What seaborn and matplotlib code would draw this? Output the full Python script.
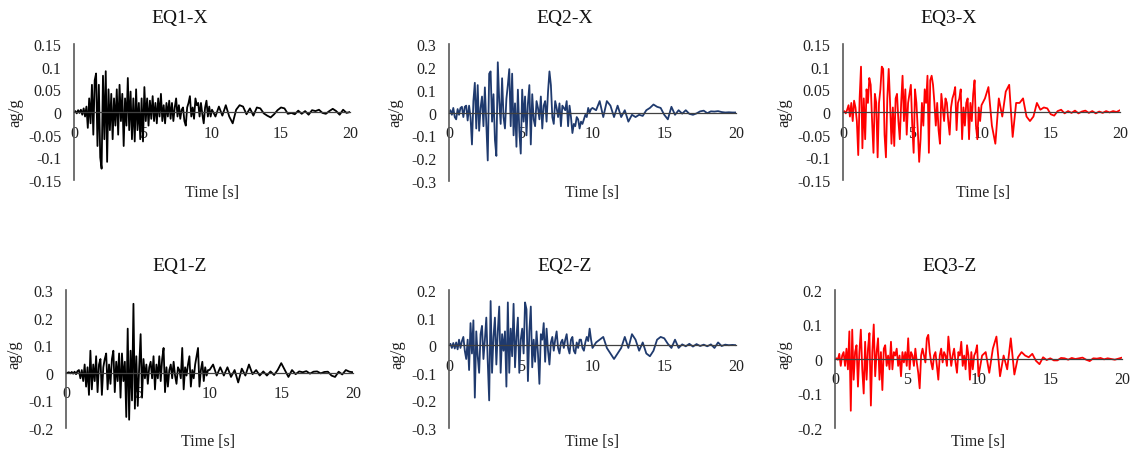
import numpy as np
import matplotlib
matplotlib.use("Agg")
import matplotlib.pyplot as plt
import seaborn as sns

# ---------------- data (ag/g) ----------------
# early part: 0.0 .. 9.9 s every 0.1 s ; late part: 10.0 .. 20.0 s every 0.25 s
EARLY_DT = 0.1
LATE_DT = 0.25
LATE_START = 10.0

eq1x_early = [
    0, 0.002, -0.003, 0.004, -0.002, 0.005, -0.006, 0.008, -0.01, 0.012,
    -0.035, 0.03, -0.025, 0.06, -0.05, 0.07, 0.085, -0.075, 0.06, -0.1,
    -0.125, 0.08, -0.06, 0.09, -0.11, 0.05, -0.04, 0.04, -0.06, 0.03,
    -0.03, 0.05, -0.05, 0.06, -0.02, 0.04, -0.075, 0.03, -0.03, 0.075,
    -0.04, 0.045, -0.06, 0.03, -0.065, 0.05, -0.04, 0.02, -0.06, 0.03,
    -0.065, 0.055, -0.02, 0.03, -0.03, 0.025, -0.015, 0.035, -0.02, 0.02,
    -0.025, 0.03, -0.01, 0.04, -0.02, 0.015, -0.025, 0.02, -0.01, 0.025,
    -0.015, 0.02, -0.02, 0.01, 0.03, -0.01, 0.015, -0.015, 0.005, 0.01,
    -0.02, -0.03, 0.01, 0.02, 0.035, -0.01, 0.01, -0.015, 0.03, 0.015,
    0.02, -0.01, 0.02, -0.005, -0.025, 0.01, 0.025, -0.01, 0.012, -0.01,
]
eq1x_late = [
    0.005, -0.01, 0.012, -0.008, 0.015, -0.01, -0.025, 0.005, 0.015, 0.012,
    -0.005, 0.008, -0.008, 0.01, 0.008, -0.003, -0.008, -0.012, -0.005, 0.004,
    0.01, 0.008, -0.004, -0.002, -0.005, 0.003, -0.004, 0.002, -0.006, 0.004,
    0.002, 0.005, -0.002, -0.004, 0.002, 0.007, 0.002, -0.006, 0.005, -0.002,
    0.0,
]

eq2x_early = [
    0, 0.01, -0.01, 0.02, -0.02, -0.03, 0.015, -0.01, 0.02, 0.025,
    -0.02, 0.025, 0.03, -0.035, 0.03, -0.02, -0.14, 0.05, 0.13, -0.07,
    0.12, -0.08, 0.02, 0.07, -0.06, 0.11, -0.05, -0.21, 0.17, 0.18,
    -0.04, 0.08, -0.12, -0.19, 0.22, 0.05, -0.05, 0.15, -0.02, -0.07,
    0.06, 0.12, 0.19, -0.06, 0.17, -0.1, 0.04, -0.15, 0.1, -0.08,
    -0.18, 0.1, -0.04, 0.07, -0.1, 0.04, 0.12, -0.14, 0.08, -0.03,
    -0.06, 0.05, 0.02, -0.03, 0.07, -0.07, 0.03, 0.05, -0.04, 0.09,
    0.18, 0.12, -0.02, -0.05, 0.05, 0.02, -0.02, 0.04, -0.06, 0.03,
    0.02, 0.01, 0.05, -0.06, 0.03, -0.02, -0.09, -0.05, -0.06, -0.02,
    -0.03, -0.07, -0.04, -0.05, -0.03, -0.01, -0.02, 0.02, 0.0, 0.015,
]
eq2x_late = [
    0.02, 0.01, 0.05, -0.02, 0.05, 0.03, -0.02, 0.03, -0.02, 0.01,
    -0.04, -0.01, -0.02, -0.01, -0.015, 0.01, 0.02, 0.035, 0.025, 0.02,
    -0.01, -0.03, 0.025, -0.01, 0.01, -0.005, 0.01, -0.006, -0.01, -0.004,
    0.005, 0.008, -0.003, 0.005, 0.004, 0.006, 0.002, 0.0, 0.001, 0.0,
    0.0,
]

eq3x_early = [
    0, 0.002, -0.003, 0.005, 0.015, -0.01, 0.02, -0.02, 0.025, 0.01,
    -0.02, -0.095, 0.03, 0.1, -0.08, 0.03, -0.06, 0.05, 0.02, 0.075,
    0.06, -0.02, -0.09, 0.04, 0.02, -0.1, 0.02, 0.05, 0.1, 0.095,
    -0.05, -0.1, 0.03, 0.095, 0.02, -0.07, 0.01, -0.075, 0.03, 0.04,
    -0.02, -0.06, 0.02, 0.08, -0.02, 0.05, -0.05, 0.02, 0.04, 0.06,
    -0.03, -0.09, 0.05, 0.02, -0.04, -0.11, -0.06, 0.02, -0.03, 0.05,
    0.02, 0.08, -0.09, 0.07, 0.08, 0.06, 0.02, -0.03, 0.02, -0.04,
    -0.07, 0.04, 0.01, -0.02, 0.03, 0.02, -0.02, -0.05, 0.01, 0.03,
    0.04, 0.055, -0.04, 0.02, 0.03, 0.05, -0.06, 0.01, -0.03, 0.02,
    0.03, -0.06, 0.02, -0.02, 0.04, 0.07, -0.03, -0.06, 0.01, -0.02,
]
eq3x_late = [
    0.015, 0.03, 0.055, -0.03, -0.07, 0.03, -0.01, 0.045, 0.06, -0.055,
    0.02, 0.02, 0.03, -0.01, -0.02, -0.01, 0.02, 0.005, 0.01, 0.008,
    -0.005, -0.008, 0.002, 0.005, -0.003, 0.002, -0.002, 0.003, -0.003, 0.001,
    0.003, -0.002, 0.002, -0.003, 0.001, -0.002, 0.002, -0.001, 0.002, 0.0,
    0.004,
]

eq1z_early = [
    0, 0, 0.002, -0.002, 0.003, -0.003, 0.004, -0.005, 0.006, 0.01,
    -0.02, 0.01, -0.03, 0.03, -0.05, 0.02, -0.08, 0.08, -0.06, 0.03,
    -0.03, 0.06, -0.07, 0.03, 0.05, -0.08, 0.02, 0.05, 0.07, -0.06,
    0.03, -0.04, 0.05, 0.08, -0.07, 0.04, -0.03, 0.07, -0.09, 0.07,
    -0.03, 0.04, -0.16, 0.16, -0.17, 0.08, -0.1, 0.25, -0.13, 0.06,
    -0.12, 0.02, 0.14, -0.09, 0.05, -0.02, 0.03, -0.04, 0.02, 0.04,
    -0.02, 0.06, -0.06, 0.03, -0.02, 0.06, -0.03, 0.05, 0.09, -0.07,
    0.02, -0.05, 0.01, 0.03, -0.02, 0.04, -0.01, -0.04, 0.02, 0.01,
    -0.02, 0.09, -0.06, 0.02, -0.01, 0.03, 0.06, -0.05, 0.01, -0.02,
    0.03, 0.06, 0.09, -0.05, 0.01, 0.04, -0.03, 0.02, -0.01, 0.01,
]
eq1z_late = [
    0.01, 0.03, -0.01, 0.02, -0.01, 0.02, -0.015, 0.01, -0.035, 0.015,
    -0.01, 0.03, -0.005, 0.01, -0.01, 0.005, -0.01, 0.005, -0.008, 0.01,
    0.035, 0.01, -0.015, 0.01, -0.005, 0.005, 0.002, 0.006, -0.003, 0.004,
    0.005, -0.002, 0.003, 0.004, -0.01, -0.015, 0.004, -0.006, 0.01, 0.004,
    0.002,
]

eq2z_early = [
    0, 0.005, -0.01, 0.008, -0.012, 0.01, -0.015, 0.02, -0.01, 0.015,
    0.03, -0.02, -0.05, 0.02, -0.09, 0.08, -0.03, 0.09, -0.19, 0.05,
    -0.04, -0.1, 0.04, 0.07, -0.05, 0.02, 0.1, -0.06, -0.2, 0.16,
    -0.1, 0.03, 0.1, -0.07, 0.05, 0.14, -0.1, 0.04, -0.02, 0.05,
    -0.15, 0.155, -0.1, 0.06, -0.04, 0.15, -0.08, 0.03, 0.1, -0.1,
    0.02, 0.06, -0.03, 0.155, 0.13, -0.13, 0.05, 0.14, -0.08, 0.02,
    -0.06, 0.05, -0.03, -0.14, 0.04, 0.02, 0.08, -0.06, 0.06, -0.02,
    -0.07, 0.01, 0.03, -0.02, 0.02, 0.05, -0.01, -0.03, 0.01, 0.02,
    -0.01, 0.02, 0.04, -0.01, -0.03, 0.02, 0.03, -0.02, -0.03, 0.01,
    -0.01, 0.02, 0.02, -0.01, -0.02, 0.01, 0.03, 0.015, 0.06, 0.02,
]
eq2z_late = [
    -0.01, 0.01, 0.02, 0.03, -0.01, -0.03, -0.05, -0.03, -0.01, 0.03,
    -0.01, 0.04, 0.02, -0.02, 0.01, -0.03, -0.04, -0.02, 0.02, 0.03,
    0.025, 0.005, -0.01, 0.02, -0.01, 0.003, -0.004, 0.005, -0.005, 0.004,
    -0.003, 0.002, -0.004, 0.003, -0.01, 0.01, -0.003, 0.002, 0.0, 0.001,
    0.0,
]

eq3z_early = [
    0, 0.002, -0.002, 0.015, -0.02, 0.01, 0.02, -0.02, 0.03, -0.03,
    0.08, -0.15, 0.085, -0.06, 0.02, 0.04, -0.08, 0.02, 0.085, -0.03,
    -0.1, 0.05, -0.06, 0.03, 0.075, -0.135, 0.02, 0.1, -0.05, 0.02,
    0.06, -0.06, 0.02, -0.09, 0.03, 0.04, -0.02, 0.01, -0.03, 0.05,
    -0.03, 0.02, 0.01, 0.03, -0.02, 0.01, -0.05, 0.02, -0.01, 0.02,
    -0.02, 0.06, -0.03, 0.02, 0.01, -0.02, 0.03, -0.01, -0.04, -0.085,
    0.01, 0.03, 0.01, -0.01, 0.06, 0.07, 0.02, -0.01, -0.03, 0.01,
    0.02, -0.02, -0.06, 0.01, 0.03, -0.01, 0.02, 0.01, -0.02, 0.065,
    0.02, -0.02, 0.01, 0.03, -0.01, -0.04, 0.02, 0.01, 0.05, -0.02,
    0.01, -0.03, 0.04, 0.01, -0.06, 0.02, -0.03, 0.01, 0.02, 0.04,
]
eq3z_late = [
    -0.05, 0.01, 0.02, -0.04, 0.03, 0.065, -0.05, 0.01, -0.03, 0.06,
    -0.045, 0.005, 0.02, 0.01, 0.005, 0.015, -0.005, -0.015, 0.005, -0.003,
    0.002, -0.004, -0.004, 0.003, 0.002, -0.002, 0.003, 0.0, 0.002, 0.004,
    -0.002, -0.006, 0.002, 0.001, 0.003, -0.001, 0.002, 0.0, -0.002, 0.001,
    0.004,
]

titles = ["EQ1-X", "EQ2-X", "EQ3-X", "EQ1-Z", "EQ2-Z", "EQ3-Z"]
series_early = [eq1x_early, eq2x_early, eq3x_early, eq1z_early, eq2z_early, eq3z_early]
series_late = [eq1x_late, eq2x_late, eq3x_late, eq1z_late, eq2z_late, eq3z_late]
y_ranges = [(-0.15, 0.15, 0.05), (-0.3, 0.3, 0.1), (-0.15, 0.15, 0.05),
            (-0.2, 0.3, 0.1), (-0.3, 0.2, 0.1), (-0.2, 0.2, 0.1)]
x_ticks = [0, 5, 10, 15, 20]
x_label = "Time [s]"
y_label = "ag/g"

# ---------------- style / layout ----------------
colors = ["#000000", "#1F3A6E", "#FF0000", "#000000", "#1F3A6E", "#FF0000"]
W, H = 1137, 452
# plot box (x0, x1, ytop, ybottom), title centre, ylabel centre, xlabel centre (pixels)
boxes = [(74, 350, 45, 181), (449, 736, 45, 182), (843, 1120, 45, 181),
         (66, 353, 291, 429), (449, 736, 291, 429), (835, 1122, 291, 429)]
title_pos = [(180, 18), (565, 18), (949, 18), (180, 267), (565, 267), (950, 267)]
ylab_pos = [(15, 113), (395, 113), (784, 113), (14, 355), (397, 355), (784, 355)]
xlab_pos = [(212, 193), (592, 193), (983, 193), (208, 442), (592, 442), (978, 442)]

sns.set_theme(style="white")
plt.rcParams["font.family"] = ["Liberation Serif", "DejaVu Serif"]
plt.rcParams["axes.unicode_minus"] = False

fig = plt.figure(figsize=(W / 100, H / 100), dpi=100)


def fmt(v):
    if abs(v) < 1e-9:
        return "0"
    return f"{v:g}"


for i in range(6):
    x0, x1, yt, yb = boxes[i]
    ax = fig.add_axes([x0 / W, 1 - yb / H, (x1 - x0) / W, (yb - yt) / H])
    early = np.asarray(series_early[i], dtype=float)
    late = np.asarray(series_late[i], dtype=float)
    t = np.concatenate([np.arange(len(early)) * EARLY_DT,
                        LATE_START + np.arange(len(late)) * LATE_DT])
    v = np.concatenate([early, late])
    sns.lineplot(x=t, y=v, ax=ax, color=colors[i], linewidth=1.3,
                 estimator=None, errorbar=None)
    lo, hi, step = y_ranges[i]
    ax.set_xlim(0, 20)
    ax.set_ylim(lo, hi)
    ax.set_xticks(x_ticks)
    ax.set_xticklabels([str(x) for x in x_ticks])
    yt_vals = np.round(np.arange(lo, hi + step / 2, step), 3)
    ax.set_yticks(yt_vals)
    ax.set_yticklabels([fmt(y) for y in yt_vals])
    for s in ("top", "right"):
        ax.spines[s].set_visible(False)
    ax.spines["bottom"].set_position(("data", 0))
    ax.spines["bottom"].set_color("#404040")
    ax.spines["bottom"].set_linewidth(0.9)
    ax.spines["left"].set_color("#595959")
    ax.spines["left"].set_linewidth(1.2)
    ax.tick_params(axis="both", length=0, labelsize=11.5, colors="#222222")
    ax.tick_params(axis="x", pad=9)
    ax.tick_params(axis="y", pad=9)
    ax.grid(False)

    w, h = x1 - x0, yb - yt
    tx, ty = title_pos[i]
    ax.set_title(titles[i], x=(tx - x0) / w, y=(yb - ty) / h, pad=0,
                 va="center", ha="center", fontsize=14, color="#111111")
    ax.set_xlabel(x_label, fontsize=11.5, color="#222222")
    lx, ly = xlab_pos[i]
    ax.xaxis.set_label_coords((lx - x0) / w, (yb - ly) / h)
    ax.xaxis.label.set_va("center")
    ax.set_ylabel(y_label, fontsize=12, color="#222222")
    px_, py_ = ylab_pos[i]
    ax.yaxis.set_label_coords((px_ - x0) / w, (yb - py_) / h)
    ax.yaxis.label.set_va("center")

fig.savefig("out.png", dpi=100)
